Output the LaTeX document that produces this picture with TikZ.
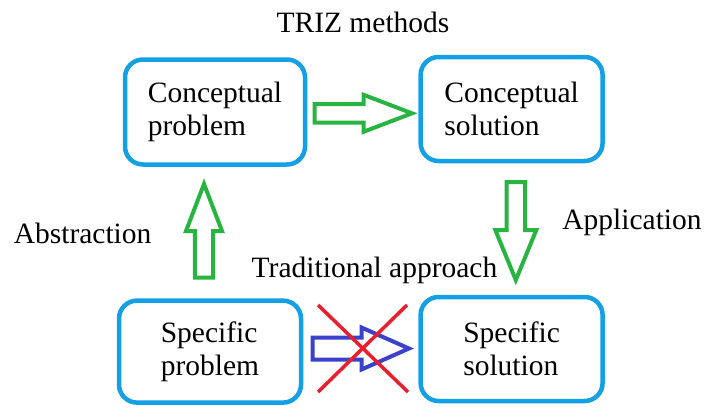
\documentclass[tikz,border=0pt]{standalone}
\usepackage{fontspec}
\setmainfont{Liberation Serif}
\usetikzlibrary{calc}
\definecolor{boxblue}{RGB}{20,160,228}
\definecolor{arrgreen}{RGB}{40,180,65}
\definecolor{arrblue}{RGB}{58,66,205}
\definecolor{crossred}{RGB}{235,30,45}
\newcommand\fatarrow[6]{%
  \draw[#1] let \p1=(#2), \p2=(#3), \n1={veclen(\x2-\x1,\y2-\y1)},
    \n2={(\x2-\x1)/\n1}, \n3={(\y2-\y1)/\n1} in
    ({\x1-(\n3)*#4},{\y1+(\n2)*#4}) --
    ({\x2-(\n2)*#6-(\n3)*#4},{\y2-(\n3)*#6+(\n2)*#4}) --
    ({\x2-(\n2)*#6-(\n3)*#5},{\y2-(\n3)*#6+(\n2)*#5}) --
    (\p2) --
    ({\x2-(\n2)*#6+(\n3)*#5},{\y2-(\n3)*#6-(\n2)*#5}) --
    ({\x2-(\n2)*#6+(\n3)*#4},{\y2-(\n3)*#6-(\n2)*#4}) --
    ({\x1+(\n3)*#4},{\y1-(\n2)*#4}) -- cycle;}
\begin{document}
\begin{tikzpicture}[x=1pt,y=-1pt,
  txt/.style={font=\fontsize{29.5}{33}\selectfont, inner sep=0pt},
  box/.style={txt, draw=boxblue, line width=4.5pt, rounded corners=18pt,
    align=left, fill=white},
  garrow/.style={draw=arrgreen, line width=4pt, line join=miter, fill=white},
  barrow/.style={draw=arrblue, line width=4pt, line join=miter, fill=white},
  cross/.style={draw=crossred, line width=3.5pt}]
\useasboundingbox[fill=white] (0,0) rectangle (704,407);
% boxes
\node[box, minimum width=180pt, minimum height=105pt] (cp) at (215,112) {Conceptual\\problem};
\node[box, minimum width=182pt, minimum height=104pt] (cs) at (511.6,109) {Conceptual\\solution};
\node[box, minimum width=182pt, minimum height=102pt] (sp) at (210,351.6) {Specific\\problem};
\node[box, minimum width=182pt, minimum height=104pt] (ss) at (511.6,349) {Specific\\solution};
% labels
\node[txt, anchor=base] (triz) at (363,32) {TRIZ methods};
\node[txt, anchor=base] (abs) at (82.6,243) {Abstraction};
\node[txt, anchor=base] (app) at (632,229) {Application};
\node[txt, anchor=base] (trad) at (374.5,277) {Traditional approach};
% arrow end points
\coordinate (t1) at (314.5,113.3); \coordinate (h1) at (412,113.3);
\coordinate (t2) at (204,277.5);   \coordinate (h2) at (204,184);
\coordinate (t3) at (515.8,182);   \coordinate (h3) at (515.8,280);
\coordinate (t4) at (312.5,348.5); \coordinate (h4) at (409,348.5);
\fatarrow{garrow}{t1}{h1}{9.3pt}{18.5pt}{48.5pt}
\fatarrow{garrow}{t2}{h2}{9.2pt}{18pt}{47pt}
\fatarrow{garrow}{t3}{h3}{9.2pt}{20.5pt}{50pt}
\fatarrow{barrow}{t4}{h4}{11pt}{21pt}{47.5pt}
% cross
\coordinate (x1) at (318,305); \coordinate (x2) at (408,392);
\coordinate (x3) at (407,305); \coordinate (x4) at (318,392);
\draw[cross] (x1) -- (x2);
\draw[cross] (x3) -- (x4);
\end{tikzpicture}
\end{document}
